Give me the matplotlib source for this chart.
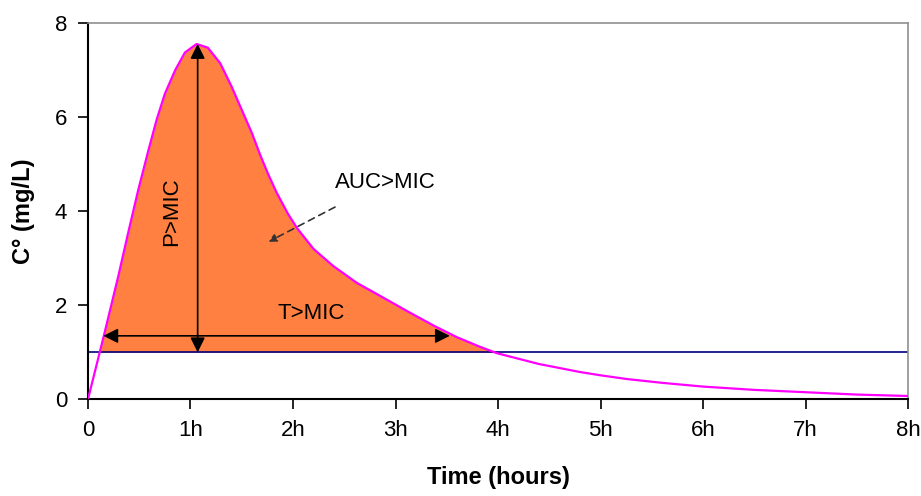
"""
Concentration-time curve with MIC threshold (PK/PD indices), saved as out.png.
"""

import matplotlib.pyplot as plt
import numpy as np

plt.rcParams["font.family"] = ["Liberation Sans", "DejaVu Sans"]

# Concentration curve (hours, mg/L)
TIME_H = [0, 0.10, 0.166, 0.296, 0.393, 0.49, 0.59, 0.67, 0.75, 0.85,
          0.946, 1.06, 1.17, 1.29, 1.40, 1.50, 1.60, 1.68, 1.76, 1.84,
          1.95, 2.04, 2.20, 2.39, 2.62, 2.85, 3.11, 3.37, 3.60, 3.82,
          3.99, 4.4, 4.8, 5.0, 5.26, 5.6, 6.0, 6.5, 7.0, 7.5, 8.0]
CONC = [0, 0.87, 1.45, 2.62, 3.55, 4.45, 5.3, 5.95, 6.5, 7.0,
        7.38, 7.56, 7.48, 7.15, 6.66, 6.16, 5.66, 5.2, 4.78, 4.4,
        3.95, 3.64, 3.2, 2.84, 2.48, 2.2, 1.88, 1.57, 1.32, 1.12,
        0.98, 0.75, 0.58, 0.51, 0.43, 0.35, 0.27, 0.20, 0.15, 0.10, 0.07]
MIC = 1.0
PEAK_T, PEAK_C = 1.07, 7.56
T_MIC_START, T_MIC_END, T_MIC_Y = 0.15, 3.53, 1.35
X_TICKS = [0, 1, 2, 3, 4, 5, 6, 7, 8]
X_LABELS = ["0", "1h", "2h", "3h", "4h", "5h", "6h", "7h", "8h"]
Y_TICKS = [0, 2, 4, 6, 8]


def main() -> int:
    fig = plt.figure(figsize=(9.21, 4.96), dpi=100)
    ax = fig.add_axes([0.0955, 0.195, 0.8905, 0.758])

    t = np.array(TIME_H)
    c = np.array(CONC)
    # dense grid so the fill meets the MIC line cleanly
    tf = np.linspace(0, 8, 1601)
    cf = np.interp(tf, t, c)
    ax.fill_between(tf, MIC, cf, where=cf >= MIC, color="#FF8040",
                    linewidth=0, zorder=1)
    ax.axhline(MIC, color="#000080", lw=1.2, zorder=2)
    ax.plot(t, c, color="#FF00FF", lw=1.6, zorder=3)

    arrow = dict(arrowstyle="<|-|>", color="black", lw=1.2,
                 mutation_scale=22, shrinkA=0, shrinkB=0)
    ax.annotate("", xy=(PEAK_T, PEAK_C), xytext=(PEAK_T, MIC),
                arrowprops=arrow, zorder=4)
    ax.annotate("", xy=(T_MIC_START, T_MIC_Y), xytext=(T_MIC_END, T_MIC_Y),
                arrowprops=arrow, zorder=4)

    ax.text(0.82, 4.0, "P>MIC", rotation=90, ha="center", va="center",
            fontsize=16)
    ax.text(2.18, 1.83, "T>MIC", ha="center", va="center", fontsize=16)
    ax.text(2.9, 4.62, "AUC>MIC", ha="center", va="center", fontsize=16)
    ax.annotate("", xy=(1.76, 3.35), xytext=(2.41, 4.09),
                arrowprops=dict(arrowstyle="-|>", color="#333333", lw=1.2,
                                linestyle=(0, (4, 3)), mutation_scale=12,
                                shrinkA=0, shrinkB=0), zorder=4)

    ax.set_xlim(0, 8)
    ax.set_ylim(0, 8)
    ax.set_xticks(X_TICKS)
    ax.set_xticklabels(X_LABELS)
    ax.set_yticks(Y_TICKS)
    ax.tick_params(direction="out", length=7, width=1.2, labelsize=16,
                   pad=8)
    for side in ("left", "bottom"):
        ax.spines[side].set_linewidth(1.5)
        ax.spines[side].set_color("black")
    for side in ("top", "right"):
        ax.spines[side].set_linewidth(1.2)
        ax.spines[side].set_color("#909090")

    ax.set_xlabel("Time (hours)", fontsize=17, fontweight="bold", labelpad=18)
    ax.set_ylabel("C° (mg/L)", fontsize=17, fontweight="bold", labelpad=14)

    fig.savefig("out.png", dpi=100)
    plt.close(fig)
    return 0


if __name__ == "__main__":
    raise SystemExit(main())
